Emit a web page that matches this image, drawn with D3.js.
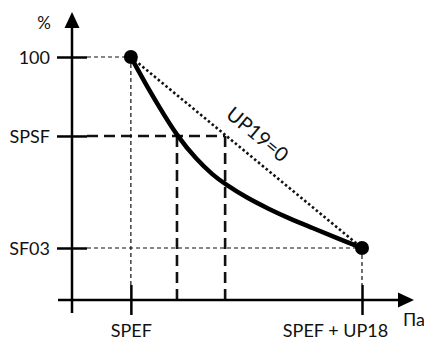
<!DOCTYPE html>
<html>
<head>
<meta charset="utf-8">
<script src="https://cdn.jsdelivr.net/npm/d3@7"></script>
<style>
  body { margin: 0; background: #fff; }
  text { font-family: Lato, "Noto Sans", sans-serif; fill: #111; }
</style>
</head>
<body>
<div class="chart"></div>
<script>
// curve (x: pressure, y: percent)
var curveX = [20.3, 25.2, 29.7, 36.2, 43.1, 48.6, 52.8, 60.3, 68.3, 75.2, 83.1, 91.4, 100];
var curveY = [100, 89.3, 80.2, 67.5, 57.6, 51.4, 47.7, 42.0, 37.2, 33.4, 29.6, 25.4, 21.4];

var yTicks = [100, 67.5, 21.4];
var yLabels = ["100", "SPSF", "SF03"];
var xTicks = [20.3, 100];
var xLabels = ["SPEF", "SPEF + UP18"];
var markX = [36.2, 52.8];   // thick dashed drop lines
var lineLabel = "UP19=0";

var width = 424, height = 340;

var svg = d3.select(".chart").append("svg")
    .attr("width", width)
    .attr("height", height);

var x = d3.scaleLinear().domain([0, 100]).range([72, 362]);
var y = d3.scaleLinear().domain([0, 100]).range([300, 57]);

var x0 = x(0), y0 = y(0);
var pts = curveX.map(function (d, i) { return [d, curveY[i]]; });
var first = pts[0], last = pts[pts.length - 1];

// thin guide lines
function thin(x1, y1, x2, y2) {
    svg.append("line")
        .attr("x1", x1).attr("y1", y1).attr("x2", x2).attr("y2", y2)
        .attr("stroke", "#111").attr("stroke-width", 1.2)
        .attr("stroke-dasharray", "4,3");
}
thin(x0 + 15, y(first[1]), x(first[0]), y(first[1]));
thin(x(first[0]), y(first[1]), x(first[0]), y0 - 15);
thin(x0 + 15, y(last[1]), x(last[0]), y(last[1]));
thin(x(last[0]), y(last[1]), x(last[0]), y0 - 15);

// thick dashed SPSF lines
var spsf = yTicks[1];
svg.append("line")
    .attr("x1", x0 + 15).attr("y1", y(spsf))
    .attr("x2", x(markX[1])).attr("y2", y(spsf))
    .attr("stroke", "#111").attr("stroke-width", 2.6)
    .attr("stroke-dasharray", "11,6");
svg.selectAll(".drop")
    .data(markX)
    .enter().append("line")
    .attr("class", "drop")
    .attr("x1", function (d) { return x(d); })
    .attr("x2", function (d) { return x(d); })
    .attr("y1", y(spsf))
    .attr("y2", y0)
    .attr("stroke", "#111").attr("stroke-width", 2.6)
    .attr("stroke-dasharray", "11,6");

// dotted straight line
svg.append("line")
    .attr("x1", x(first[0])).attr("y1", y(first[1]))
    .attr("x2", x(last[0])).attr("y2", y(last[1]))
    .attr("stroke", "#111").attr("stroke-width", 2.6)
    .attr("stroke-dasharray", "2.5,2.5");

var ang = Math.atan2(y(last[1]) - y(first[1]), x(last[0]) - x(first[0])) * 180 / Math.PI;
var mx = x(first[0]) + (x(last[0]) - x(first[0])) * 0.49;
var my = y(first[1]) + (y(last[1]) - y(first[1])) * 0.49;
svg.append("text")
    .attr("transform", "translate(" + mx + "," + my + ") rotate(" + ang + ")")
    .attr("text-anchor", "middle")
    .attr("y", -14)
    .style("font-size", "20px")
    .text(lineLabel);

// main curve
var line = d3.line()
    .x(function (d) { return x(d[0]); })
    .y(function (d) { return y(d[1]); })
    .curve(d3.curveBasis);

svg.append("path")
    .datum(pts)
    .attr("fill", "none")
    .attr("stroke", "#000")
    .attr("stroke-width", 4.5)
    .attr("d", line);

svg.selectAll(".end")
    .data([first, last])
    .enter().append("circle")
    .attr("cx", function (d) { return x(d[0]); })
    .attr("cy", function (d) { return y(d[1]); })
    .attr("r", 7)
    .attr("fill", "#000");

// axes
var yAxis = svg.append("g")
    .attr("transform", "translate(" + x0 + ",0)")
    .call(d3.axisLeft(y).tickValues(yTicks)
        .tickFormat(function (d, i) { return yLabels[i]; }));
yAxis.select(".domain").remove();
yAxis.selectAll(".tick line")
    .attr("x1", -15).attr("x2", 15)
    .attr("stroke", "#000").attr("stroke-width", 2.5);
yAxis.selectAll(".tick text")
    .attr("x", -22).attr("dy", "0.35em")
    .style("font-size", "18px").style("font-family", "Lato, sans-serif");

var xAxis = svg.append("g")
    .attr("transform", "translate(0," + y0 + ")")
    .call(d3.axisBottom(x).tickValues(xTicks)
        .tickFormat(function (d, i) { return xLabels[i]; }));
xAxis.select(".domain").remove();
xAxis.selectAll(".tick line")
    .attr("y1", -15).attr("y2", 15)
    .attr("stroke", "#000").attr("stroke-width", 2.5);
xAxis.selectAll(".tick text")
    .attr("y", 37).attr("dy", 0)
    .attr("x", function (d, i) { return i === xTicks.length - 1 ? -27 : 0; })
    .style("font-size", "18px").style("font-family", "Lato, sans-serif");

// axis lines with arrows
svg.append("line")
    .attr("x1", x0).attr("y1", 27).attr("x2", x0).attr("y2", 313)
    .attr("stroke", "#000").attr("stroke-width", 2.5);
svg.append("path")
    .attr("d", "M" + x0 + ",12L" + (x0 + 7.5) + ",28L" + (x0 - 7.5) + ",28Z")
    .attr("fill", "#000");
svg.append("line")
    .attr("x1", 58).attr("y1", y0).attr("x2", 399).attr("y2", y0)
    .attr("stroke", "#000").attr("stroke-width", 2.5);
svg.append("path")
    .attr("d", "M414," + y0 + "L398," + (y0 - 7.5) + "L398," + (y0 + 7.5) + "Z")
    .attr("fill", "#000");

svg.append("text")
    .attr("x", 44).attr("y", 29)
    .attr("text-anchor", "middle")
    .style("font-size", "17px")
    .text("%");
svg.append("text")
    .attr("x", 403).attr("y", 326)
    .style("font-size", "18px")
    .text("Па");
</script>
</body>
</html>
